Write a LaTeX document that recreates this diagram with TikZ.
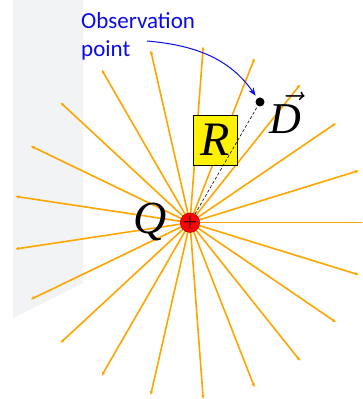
\documentclass[tikz,border=0pt]{standalone}
\usepackage{fix-cm}
\usepackage{fontspec}
\newfontfamily\labelfont{Carlito}
\newfontfamily\varfont{Liberation Serif Italic}
\usetikzlibrary{arrows.meta, positioning, calc}
\definecolor{fieldcolor}{RGB}{255,165,0}
\definecolor{panelcolor}{RGB}{242,243,245}
\definecolor{obscolor}{RGB}{10,10,235}
\definecolor{chargeedge}{RGB}{140,0,0}
\tikzset{
  fieldline/.style = {draw=fieldcolor, line width=1.6pt,
                      -{Latex[length=4pt,width=3.5pt]}},
  charge/.style    = {circle, draw=chargeedge, fill=red, minimum size=17pt,
                      inner sep=0pt, font=\fontsize{17}{17}\selectfont\bfseries},
  obspoint/.style  = {circle, fill=black, minimum size=9pt, inner sep=0pt},
  rbox/.style      = {draw=black, fill=yellow, minimum width=44pt, minimum height=50pt,
                      inner sep=0pt, font=\varfont\fontsize{48}{48}\selectfont},
  biglabel/.style  = {inner sep=0pt, font=\varfont\fontsize{46}{46}\selectfont},
  obstext/.style   = {inner sep=0pt, align=left, text=obscolor,
                      font=\labelfont\fontsize{23}{28}\selectfont},
  obsarrow/.style  = {-{Stealth[length=8pt,width=6pt]}, line width=1pt, color=obscolor},
}
\begin{document}
\begin{tikzpicture}[x=1pt, y=1pt]
  \useasboundingbox (0,0) rectangle (362,399);
  % shaded panel
  \fill[panelcolor] (13,399) -- (83,399) -- (83,116) -- (13,81) -- cycle;
  % field lines
  \coordinate (qc) at (190,176.3);
  \begin{scope}
    \clip (0,0) rectangle (362,399);
    \foreach \k in {0,...,20} {
      \draw[fieldline] (qc) -- ++(\k*360/21:177);
    }
  \end{scope}
  % separation
  \node[rbox] (rlabel) at (215,259) {R};
  \node[obspoint] (obs) at (260,297) {};
  \node[charge] (q) at (qc) {+};
  \draw[densely dashed, line width=0.6pt] (q) -- (obs);
  % labels
  \node[biglabel, anchor=base west] (qlabel) at (133,165) {Q};
  \node[biglabel, anchor=base west, font=\varfont\fontsize{44}{44}\selectfont]
    (dlabel) at (269,265.7) {$\vec{\mbox{D}\kern0.3em}$};
  \node[obstext, anchor=north west] (obsname) at (81,387) {Observation\\point};
  \coordinate (obsstart) at (147,358);
  \draw[obsarrow, shorten >=3pt] (obsstart) to[out=-5, in=125] (obs);
\end{tikzpicture}
\end{document}
